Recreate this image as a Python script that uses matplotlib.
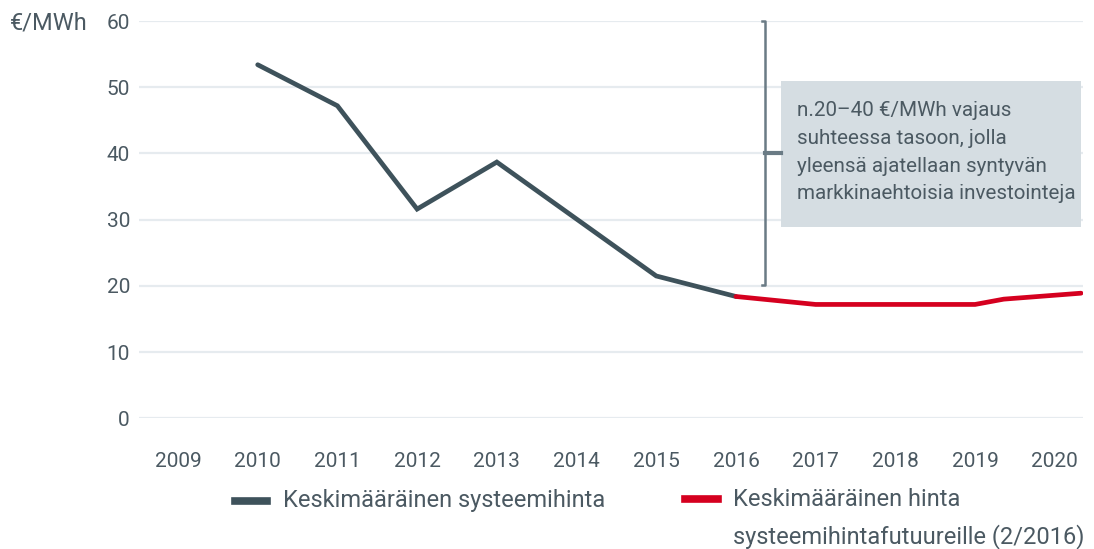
import matplotlib
matplotlib.use('Agg')
import matplotlib.pyplot as plt
from matplotlib.lines import Line2D

''' data read off the reference '''
years_hist = [2010, 2011, 2012, 2013, 2014, 2015, 2016]
price_hist = [53.4, 47.2, 31.6, 38.7, 30.1, 21.5, 18.4]

years_fut = [2016, 2017, 2018, 2019, 2019.36, 2020.33]
price_fut = [18.4, 17.2, 17.2, 17.2, 18.0, 18.9]

year_ticks = list(range(2009, 2021))
y_ticks = [0, 10, 20, 30, 40, 50, 60]

label_hist = 'Keskimääräinen systeemihinta'
label_fut = ['Keskimääräinen hinta', 'systeemihintafutuureille (2/2016)']
box_text = ('n.20\u201340 €/MWh vajaus\nsuhteessa tasoon, jolla\n'
            'yleensä ajatellaan syntyvän\nmarkkinaehtoisia investointeja')

dark = '#3e525b'
red = '#d5001f'
txt = '#4b5962'

plt.rcParams['font.family'] = ['Roboto', 'DejaVu Sans']

''' figure '''
fig = plt.figure(figsize=(10.94, 5.49), dpi=100)
ax = fig.add_axes([0.127, 0.238, 0.863, 0.7237])

ax.plot(years_hist, price_hist, color=dark, lw=3.4, solid_capstyle='round',
        solid_joinstyle='miter', zorder=3)
ax.plot(years_fut, price_fut, color=red, lw=3.4, solid_capstyle='round', zorder=3)

ax.set_xlim(2008.51, 2020.355)
ax.set_ylim(0, 60)
ax.set_xticks(year_ticks)
ax.set_yticks(y_ticks)
ax.tick_params(axis='x', length=0, pad=24, labelsize=15, labelcolor=txt)
ax.tick_params(axis='y', length=0, pad=6.5, labelsize=15, labelcolor=txt)
ax.grid(axis='y', color='#e6ebef', lw=1.6)
ax.set_axisbelow(True)
for s in ax.spines.values():
    s.set_visible(False)

fig.text(0.009, 1 - 23 / 549, '€/MWh', fontsize=17, color=txt, va='center')

''' bracket and annotation box '''
bx = 2016.365
ax.plot([bx - 0.04, bx, bx, bx - 0.04], [60, 60, 20.1, 20.1], color='#6a7b85',
        lw=1.8, clip_on=False, zorder=4)
ax.plot([bx, 2016.566], [40, 40], color='#6a7b85', lw=3, clip_on=False, zorder=4)

ax.add_patch(plt.Rectangle((2016.566, 28.94), 2020.33 - 2016.566, 51.0 - 28.94,
                           facecolor='#d5dde2', edgecolor='none', zorder=2))
ax.text(2016.77, 40.2, box_text, fontsize=14.9, color=txt, va='center', ha='left',
        linespacing=1.59, zorder=5)

''' legend drawn by hand '''
fig.add_artist(Line2D([235 / 1094, 267 / 1094], [1 - 500.7 / 549] * 2, color=dark, lw=5.5))
fig.text(283 / 1094, 1 - 501 / 549, label_hist, fontsize=17, color=txt, va='center')
fig.add_artist(Line2D([685 / 1094, 718 / 1094], [1 - 499 / 549] * 2, color=red, lw=5.5))
fig.text(733 / 1094, 1 - 499 / 549, label_fut[0], fontsize=17, color=txt, va='center')
fig.text(733 / 1094, 1 - 537 / 549, label_fut[1], fontsize=17, color=txt, va='center')

plt.savefig('out.png', dpi=100)
